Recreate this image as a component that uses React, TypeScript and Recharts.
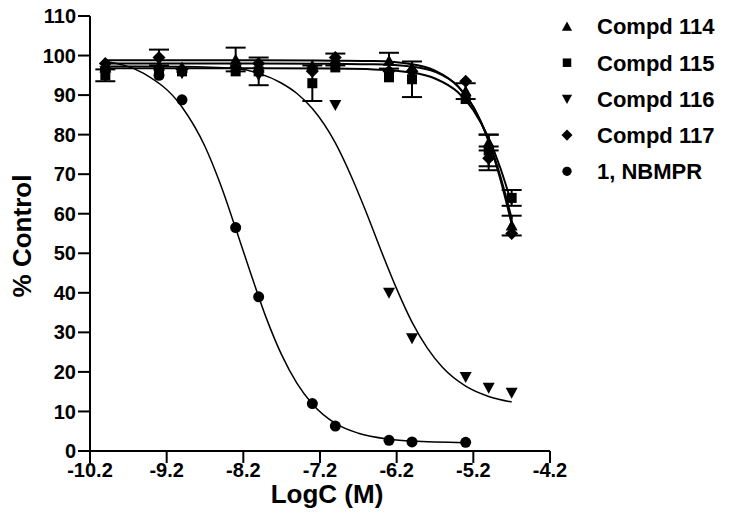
import React from 'react';
import { ComposedChart, XAxis, YAxis, Line, Scatter, ErrorBar, Customized } from 'recharts';

const xTicks = [-10.2, -9.2, -8.2, -7.2, -6.2, -5.2, -4.2];
const yTicks = [0, 10, 20, 30, 40, 50, 60, 70, 80, 90, 100, 110];

const concentrations = [-10, -9.3, -9, -8.3, -8, -7.3, -7, -6.3, -6, -5.3, -5, -4.7];
const compd114 = [97, 97.5, 97, 99, 97, 97.5, 99, 98.7, 97, 91, 78, 57];
const compd114Err = [0, 0, 0, 3, 0, 0, 1.5, 2, 0, 2, 2, 2.5];
const compd115 = [95, 95.5, 96, 96, 96, 93, 97, 94.5, 94, 89, 76, 64];
const compd115Err = [1.5, 0, 0, 0, 3.5, 4.5, 0, 0, 4.5, 0, 4, 2];
const compd116 = [96, 96, 95.5, 96.5, 95, 96, 87.5, 40, 28.5, 18.7, 16, 14.7];
const compd117 = [98, 99.5, 96.5, 97, 98, 96, 99.5, 96, 96, 93.5, 74, 55];
const compd117Err = [0, 2, 0, 0, 0, 0, 0, 0, 0, 0, 3, 0];
const nbmprX = [-10, -9.3, -9, -8.3, -8, -7.3, -7, -6.3, -6, -5.3];
const nbmpr = [96.5, 95, 88.8, 56.5, 39, 12, 6.3, 2.7, 2.3, 2.2];

const fitX = [-10, -9, -8, -7, -6.5, -6, -5.7, -5.4, -5.2, -5.0, -4.85, -4.7];
const fit114 = [98.8, 98.8, 98.8, 98.7, 98.6, 97.8, 96.2, 92.2, 87.0, 78.5, 69.6, 58.8];
const fit115 = [96.8, 96.8, 96.8, 96.7, 96.5, 95.7, 94.2, 90.7, 86.2, 79.1, 71.7, 62.5];
const fit117 = [98, 98, 98, 97.9, 97.8, 97.2, 95.9, 92.2, 87.0, 78.3, 68.9, 57.4];
const fit116X = [-10, -9, -8.3, -8.0, -7.7, -7.5, -7.3, -7.0, -6.8, -6.6, -6.4, -6.2, -6.0, -5.8, -5.6, -5.3, -5.0, -4.7];
const fit116 = [97.3, 97.2, 96.7, 95.5, 93, 90.4, 86.6, 77.9, 69.8, 60.5, 50.5, 41, 32.6, 26, 21.1, 16.4, 13.8, 12.4];
const fitNbmprX = [-10, -9.5, -9, -8.7, -8.5, -8.3, -8.1, -7.9, -7.7, -7.5, -7.3, -7.0, -6.7, -6.3, -6.0, -5.3];
const fitNbmpr = [98.5, 95.5, 87, 77, 67.5, 56.3, 44.7, 33.6, 24.3, 17.1, 11.9, 7.0, 4.5, 3.0, 2.5, 2.1];

const legendItems = [
  { name: 'Compd 114', kind: 'triangle' },
  { name: 'Compd 115', kind: 'square' },
  { name: 'Compd 116', kind: 'triangleDown' },
  { name: 'Compd 117', kind: 'diamond' },
  { name: '1, NBMPR', kind: 'circle' },
];

const pts = (xs: number[], ys: number[], errs?: number[]) =>
  xs.map((x, i) => ({ x, y: ys[i], err: errs ? errs[i] : 0 }));

const FONT = '"Liberation Sans", Arial, sans-serif';

function Marker({ kind, cx, cy, s = 1 }: { kind: string; cx: number; cy: number; s?: number }) {
  if (cx == null || cy == null) return null;
  const k = s;
  switch (kind) {
    case 'triangle':
      return <path d={`M${cx},${cy - 6 * k} L${cx + 6 * k},${cy + 5 * k} L${cx - 6 * k},${cy + 5 * k} Z`} fill="#000" />;
    case 'triangleDown':
      return <path d={`M${cx},${cy + 6 * k} L${cx + 6 * k},${cy - 5 * k} L${cx - 6 * k},${cy - 5 * k} Z`} fill="#000" />;
    case 'square':
      return <rect x={cx - 5 * k} y={cy - 5 * k} width={10 * k} height={10 * k} fill="#000" />;
    case 'diamond':
      return <path d={`M${cx},${cy - 6.5 * k} L${cx + 6.5 * k},${cy} L${cx},${cy + 6.5 * k} L${cx - 6.5 * k},${cy} Z`} fill="#000" />;
    default:
      return <circle cx={cx} cy={cy} r={5.5 * k} fill="#000" />;
  }
}

const shapeOf = (kind: string) => (p: any) => <Marker kind={kind} cx={p.cx} cy={p.cy} />;

function LegendBlock() {
  return (
    <g>
      {legendItems.map((it, i) => {
        const y = 26.5 + i * 36.2;
        return (
          <g key={it.name}>
            <Marker kind={it.kind} cx={567} cy={y} s={0.85} />
            <text x={597} y={y} dy="0.36em" fontFamily={FONT} fontWeight="bold" fontSize={22} fill="#000">
              {it.name}
            </text>
          </g>
        );
      })}
    </g>
  );
}

export default function App() {
  const axisTick = { fontFamily: FONT, fontWeight: 'bold', fontSize: 20, fill: '#000' } as any;
  return (
    <div style={{ position: 'absolute', left: 0, top: 0, width: 729, height: 532, background: '#fff' }}>
      <ComposedChart width={729} height={532} margin={{ top: 16, right: 179, bottom: 0, left: 0 }}>
        <XAxis
          type="number"
          dataKey="x"
          domain={[-10.2, -4.2]}
          ticks={xTicks}
          allowDataOverflow
          tick={axisTick}
          tickFormatter={(v: number) => v.toFixed(1)}
          tickSize={12}
          tickMargin={0}
          height={81}
          stroke="#000"
          strokeWidth={2}
          label={{
            content: () => (
              <text x={327} y={494} dy="0.36em" textAnchor="middle" fontFamily={FONT} fontWeight="bold" fontSize={26} fill="#000">
                LogC (M)
              </text>
            ),
          }}
        />
        <YAxis
          type="number"
          domain={[0, 110]}
          ticks={yTicks}
          allowDataOverflow
          tick={axisTick}
          tickSize={12}
          tickMargin={2}
          width={90}
          stroke="#000"
          strokeWidth={2}
          label={{
            content: () => (
              <text
                x={22}
                y={236}
                dy="0.36em"
                textAnchor="middle"
                transform="rotate(-90 22 236)"
                fontFamily={FONT}
                fontWeight="bold"
                fontSize={26}
                fill="#000"
              >
                % Control
              </text>
            ),
          }}
        />
        <Line data={pts(fitX, fit114)} dataKey="y" type="monotone" stroke="#000" strokeWidth={2} dot={false} isAnimationActive={false} />
        <Line data={pts(fitX, fit115)} dataKey="y" type="monotone" stroke="#000" strokeWidth={2} dot={false} isAnimationActive={false} />
        <Line data={pts(fitX, fit117)} dataKey="y" type="monotone" stroke="#000" strokeWidth={2} dot={false} isAnimationActive={false} />
        <Line data={pts(fit116X, fit116)} dataKey="y" type="monotone" stroke="#000" strokeWidth={1.5} dot={false} isAnimationActive={false} />
        <Line data={pts(fitNbmprX, fitNbmpr)} dataKey="y" type="monotone" stroke="#000" strokeWidth={1.5} dot={false} isAnimationActive={false} />
        <Scatter data={pts(concentrations, compd114, compd114Err)} dataKey="y" shape={shapeOf('triangle')} isAnimationActive={false}>
          <ErrorBar dataKey="err" direction="y" width={10} strokeWidth={2} stroke="#000" />
        </Scatter>
        <Scatter data={pts(concentrations, compd115, compd115Err)} dataKey="y" shape={shapeOf('square')} isAnimationActive={false}>
          <ErrorBar dataKey="err" direction="y" width={10} strokeWidth={2} stroke="#000" />
        </Scatter>
        <Scatter data={pts(concentrations, compd116)} dataKey="y" shape={shapeOf('triangleDown')} isAnimationActive={false} />
        <Scatter data={pts(concentrations, compd117, compd117Err)} dataKey="y" shape={shapeOf('diamond')} isAnimationActive={false}>
          <ErrorBar dataKey="err" direction="y" width={10} strokeWidth={2} stroke="#000" />
        </Scatter>
        <Scatter data={pts(nbmprX, nbmpr)} dataKey="y" shape={shapeOf('circle')} isAnimationActive={false} />
        <Customized component={LegendBlock} />
      </ComposedChart>
    </div>
  );
}
